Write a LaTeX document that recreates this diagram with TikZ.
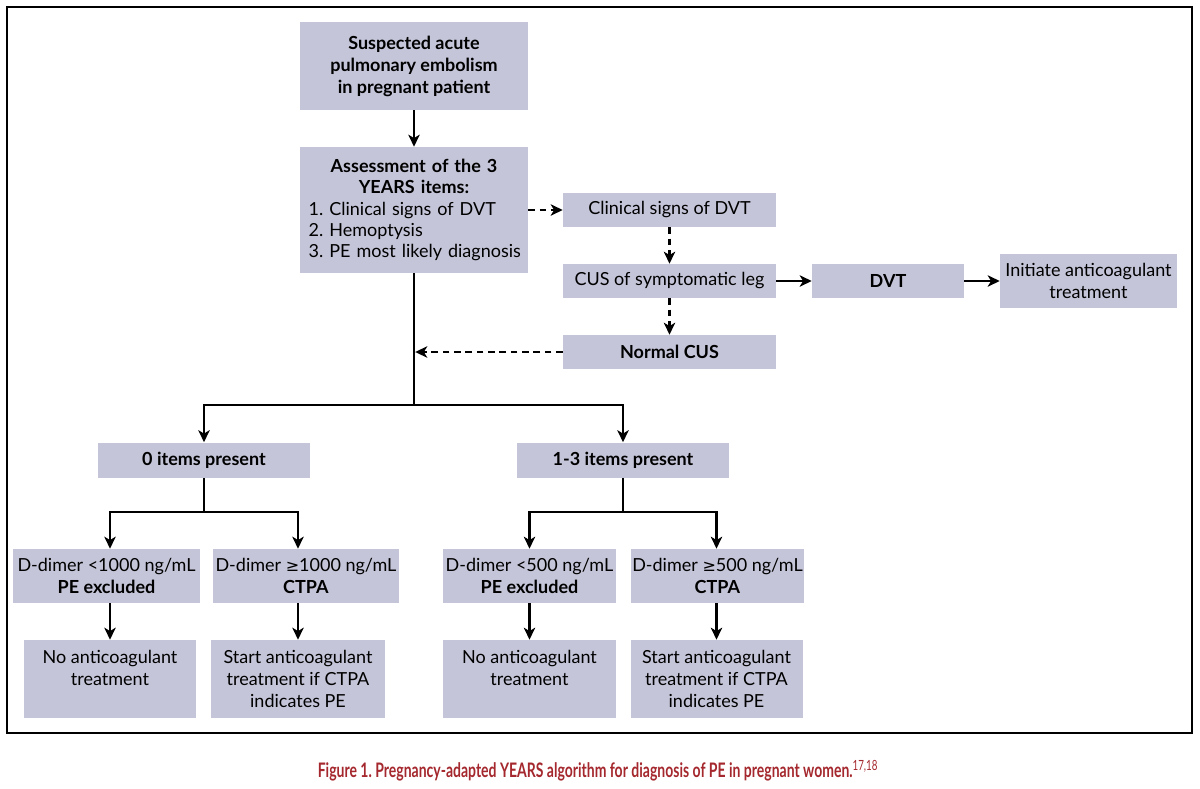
\documentclass[tikz,border=0pt]{standalone}
\usepackage{fontspec}
\setmainfont{Lato}
\newfontfamily\capfont[FakeStretch=0.70]{Lato}
\newfontfamily\symfont{DejaVu Sans}
\newcommand{\gesym}{{\symfont\fontsize{12}{12}\selectfont ≥}}
\usetikzlibrary{arrows.meta}
\definecolor{boxfill}{HTML}{C4C5D8}
\definecolor{capred}{HTML}{A4282D}
\frenchspacing
\begin{document}
\begin{tikzpicture}[x=0.75pt,y=-0.75pt,
  box/.style={fill=boxfill, inner sep=0pt, align=center, font=\fontsize{13.5}{16.5}\selectfont},
  bbox/.style={box, font=\fontsize{13.5}{16.5}\selectfont\bfseries},
  ln/.style={line width=1.9pt, black},
  arr/.style={ln, -{Stealth[length=9pt,width=8.5pt,inset=2.5pt]}},
  darr/.style={arr, dash pattern=on 5pt off 3.5pt},
]
\useasboundingbox (0,0) rectangle (1200,789);
\draw[line width=1.6pt] (7,7) rectangle (1192,733);

% nodes
\node[bbox, minimum width=171pt, minimum height=66pt] (top) at (414,66)
  {Suspected acute\\pulmonary embolism\\in pregnant patient};
\node[box, minimum width=171pt, minimum height=94.5pt, text width=166pt, align=left, font=\fontsize{13.5}{16}\selectfont] (assess) at (414,210)
  {{\centering\bfseries Assessment of the 3\\ YEARS items:\par}\mbox{\hspace{4pt}1. Clinical signs of DVT}\\\mbox{\hspace{4pt}2. Hemoptysis}\\\mbox{\hspace{4pt}3. PE most likely diagnosis}};
\node[box, minimum width=159.75pt, minimum height=25.5pt] (clin) at (669.5,210) {Clinical signs of DVT};
\node[box, minimum width=159.75pt, minimum height=25.5pt] (cus) at (669.5,281) {CUS of symptomatic leg};
\node[bbox, minimum width=159.75pt, minimum height=25.5pt] (normal) at (669.5,352) {Normal CUS};
\node[bbox, minimum width=114pt, minimum height=25.5pt] (dvt) at (888,281) {DVT};
\node[box, minimum width=132.75pt, minimum height=40.5pt] (init) at (1088.5,281) {Initiate anticoagulant\\treatment};

\node[bbox, minimum width=159pt, minimum height=26.25pt] (zero) at (204,460) {0 items present};
\node[bbox, minimum width=159pt, minimum height=26.25pt] (one) at (623,460) {1-3 items present};

\node[box, minimum width=140.25pt, minimum height=40.5pt] (d1) at (106.5,576) {D-dimer <1000 ng/mL\\\textbf{PE excluded}};
\node[box, minimum width=139.5pt, minimum height=40.5pt] (d2) at (306,576) {D-dimer \gesym1000 ng/mL\\\textbf{CTPA}};
\node[box, minimum width=129.75pt, minimum height=40.5pt] (d3) at (529.5,576) {D-dimer <500 ng/mL\\\textbf{PE excluded}};
\node[box, minimum width=129.75pt, minimum height=40.5pt] (d4) at (717.5,576) {D-dimer \gesym500 ng/mL\\\textbf{CTPA}};

\node[box, minimum width=129pt, minimum height=58.5pt] (n1) at (110,679) {No anticoagulant\\treatment\\\mbox{}};
\node[box, minimum width=130.5pt, minimum height=58.5pt] (n2) at (298,679) {Start anticoagulant\\treatment if CTPA\\indicates PE};
\node[box, minimum width=129.75pt, minimum height=58.5pt] (n3) at (529.5,679) {No anticoagulant\\treatment\\\mbox{}};
\node[box, minimum width=129pt, minimum height=58.5pt] (n4) at (716.5,679) {Start anticoagulant\\treatment if CTPA\\indicates PE};

\node[text=capred, font=\capfont\bfseries\fontsize{15}{17}\selectfont] (cap) at (598,771)
  {Figure 1. Pregnancy-adapted YEARS algorithm for diagnosis of PE in pregnant women.\textsuperscript{\mdseries 17,18}};

% connectors
\draw[arr] (top) -- (assess);
\draw[darr] (assess.east |- clin.west) -- (clin.west);
\draw[darr] (clin) -- (cus);
\draw[darr] (cus) -- (normal);
\draw[arr] (cus) -- (dvt);
\draw[arr] (dvt) -- (init);
\coordinate (b) at (414,405);
\draw[darr, shorten >=0.9pt] (normal.west) -- (normal.west -| assess.south);
\draw[ln] (assess.south) -- (b);
\draw[arr] (b) -| (zero.north);
\draw[arr] (b) -| (one.north);

\coordinate (zb) at (204,512);
\coordinate (ob) at (623,512);
\draw[ln] (zero.south) -- (zb);
\draw[arr] (zb) -| (n1.north |- d1.north);
\draw[arr] (zb) -| (n2.north |- d2.north);
\draw[ln] (one.south) -- (ob);
\draw[arr] (ob) -| (n3.north |- d3.north);
\draw[arr] (ob) -| (n4.north |- d4.north);

\draw[arr] (n1.north |- d1.south) -- (n1.north);
\draw[arr] (n2.north |- d2.south) -- (n2.north);
\draw[arr] (n3.north |- d3.south) -- (n3.north);
\draw[arr] (n4.north |- d4.south) -- (n4.north);
\end{tikzpicture}
\end{document}
